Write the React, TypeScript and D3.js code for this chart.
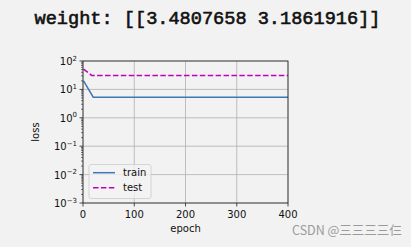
import React from "react";
import * as d3 from "d3";

const epochs = [1, 20, 40, 60, 80, 100, 120, 140, 160, 180, 200, 220, 240, 260, 280, 300, 320, 340, 360, 380, 400];
const trainLoss = [20, 5.3, 5.3, 5.3, 5.3, 5.3, 5.3, 5.3, 5.3, 5.3, 5.3, 5.3, 5.3, 5.3, 5.3, 5.3, 5.3, 5.3, 5.3, 5.3, 5.3];
const testEpochs = [1, 17, 40, 60, 80, 100, 120, 140, 160, 180, 200, 220, 240, 260, 280, 300, 320, 340, 360, 380, 400];
const testLoss = [52, 31, 31, 31, 31, 31, 31, 31, 31, 31, 31, 31, 31, 31, 31, 31, 31, 31, 31, 31, 31];
const xTicks = [0, 100, 200, 300, 400];
const yExps = [-3, -2, -1, 0, 1, 2];
const title = "weight: [[3.4807658 3.1861916]]";
const seriesNames = ["train", "test"];

export default function App() {
  const W = 411, H = 247;
  const L = 83, R = 288, T = 61, B = 203;
  const x = d3.scaleLinear().domain([0, 400]).range([L, R]);
  const y = d3.scaleLog().domain([1e-3, 1e2]).range([B, T]);
  const line = d3.line<[number, number]>().x(d => x(d[0])).y(d => y(d[1]));
  const trainPts = epochs.map((e, i) => [e, trainLoss[i]] as [number, number]);
  const testPts = testEpochs.map((e, i) => [e, testLoss[i]] as [number, number]);
  const minor: number[] = [];
  for (let e = -3; e < 2; e++) for (let k = 2; k <= 9; k++) minor.push(k * Math.pow(10, e));
  const font = "DejaVu Sans, sans-serif";
  return (
    <svg width={W} height={H} style={{ position: "absolute", left: 0, top: 0, background: "#f2f2f2" }}>
      <rect x={0} y={0} width={W} height={H} fill="#f2f2f2" />
      <text x={207.5} y={24} textAnchor="middle" fontFamily="Liberation Mono, monospace" fontSize={18.6} fill="#111" stroke="#111" strokeWidth={0.6}>{title}</text>
      {xTicks.map(t => (
        <line key={"gx" + t} x1={x(t)} x2={x(t)} y1={T} y2={B} stroke="#b0b0b0" strokeWidth={0.8} />
      ))}
      {yExps.map(e => (
        <line key={"gy" + e} x1={L} x2={R} y1={y(Math.pow(10, e))} y2={y(Math.pow(10, e))} stroke="#b0b0b0" strokeWidth={0.8} />
      ))}
      <path d={line(trainPts) || ""} fill="none" stroke="#3f76b4" strokeWidth={1.5} />
      <path d={line(testPts) || ""} fill="none" stroke="#bf00bf" strokeWidth={1.5} strokeDasharray="5.5,2.4" />
      <rect x={L} y={T} width={R - L} height={B - T} fill="none" stroke="#222" strokeWidth={0.8} />
      {xTicks.map(t => (
        <g key={"xt" + t}>
          <line x1={x(t)} x2={x(t)} y1={B} y2={B + 3.5} stroke="#222" strokeWidth={0.8} />
          <text x={x(t)} y={B + 15} textAnchor="middle" fontFamily={font} fontSize={10} fill="#111">{t}</text>
        </g>
      ))}
      {minor.map((m, i) => (
        <line key={"mn" + i} x1={L - 2} x2={L} y1={y(m)} y2={y(m)} stroke="#222" strokeWidth={0.6} />
      ))}
      {yExps.map(e => (
        <g key={"yt" + e}>
          <line x1={L - 3.5} x2={L} y1={y(Math.pow(10, e))} y2={y(Math.pow(10, e))} stroke="#222" strokeWidth={0.8} />
          <text x={L - 6} y={y(Math.pow(10, e)) + 4} textAnchor="end" fontFamily={font} fontSize={10} fill="#111">
            10<tspan dy={-4.5} fontSize={7}>{e < 0 ? "\u2212" + Math.abs(e) : String(e)}</tspan>
          </text>
        </g>
      ))}
      <text x={(L + R) / 2} y={232} textAnchor="middle" fontFamily={font} fontSize={10} fill="#111">epoch</text>
      <text transform={`translate(39,${(T + B) / 2}) rotate(-90)`} textAnchor="middle" fontFamily={font} fontSize={10} fill="#111">loss</text>
      <rect x={89} y={164.5} width={62} height={34} rx={2} fill="#f2f2f2" fillOpacity={0.8} stroke="#cccccc" strokeWidth={0.8} />
      <line x1={93} x2={115} y1={172.7} y2={172.7} stroke="#3f76b4" strokeWidth={1.5} />
      <line x1={93} x2={115} y1={187.7} y2={187.7} stroke="#bf00bf" strokeWidth={1.5} strokeDasharray="5.5,2.4" />
      <text x={123} y={176.3} fontFamily={font} fontSize={10} fill="#111">{seriesNames[0]}</text>
      <text x={123} y={191.3} fontFamily={font} fontSize={10} fill="#111">{seriesNames[1]}</text>
      <text x={292} y={235} fontFamily="Noto Sans CJK SC, sans-serif" fontSize={12.5} fill="#9a9a9a">CSDN @三三三三仨</text>
    </svg>
  );
}
